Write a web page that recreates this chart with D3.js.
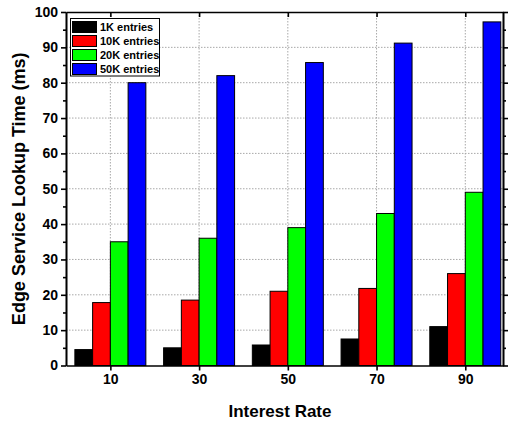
<!DOCTYPE html>
<html>
<head>
<meta charset="utf-8">
<script src="https://cdn.jsdelivr.net/npm/d3@7"></script>
<style>
  html, body { margin: 0; padding: 0; background: #fff; }
  svg { display: block; font-family: "Liberation Sans", Arial, sans-serif; }
</style>
</head>
<body>
<svg id="chart" width="510" height="424"></svg>
<script>
// Interest rates on the x axis and lookup times (ms) per table size
const rates = [10, 30, 50, 70, 90];
const seriesNames = ["1K entries", "10K entries", "20K entries", "50K entries"];
const seriesColors = ["#000000", "#ff0000", "#00ff00", "#0000ff"];
const entries1K  = [4.5, 5.0, 5.8, 7.5, 11.0];
const entries10K = [17.8, 18.5, 21.0, 21.8, 26.0];
const entries20K = [35, 36, 39, 43, 49];
const entries50K = [80, 82, 85.7, 91.2, 97.2];
const yTicks = [0, 10, 20, 30, 40, 50, 60, 70, 80, 90, 100];

const seriesValues = [entries1K, entries10K, entries20K, entries50K];

const svg = d3.select("#chart");
const plotLeft = 66, plotRight = 503, plotTop = 12, plotBottom = 365.5;

// Rate axis is numeric; each bar is 4 rate units wide, a group spans 16 units
const x = d3.scaleLinear().domain([0, 98.5]).range([plotLeft, plotRight]);
const y = d3.scaleLinear().domain([0, 100]).range([plotBottom, plotTop]);
const barUnits = 4;

// Dotted grid
const grid = svg.append("g");
grid.selectAll("line.h").data(yTicks.filter(v => v > 0 && v < 100)).join("line")
  .attr("x1", plotLeft).attr("x2", plotRight)
  .attr("y1", d => y(d)).attr("y2", d => y(d))
  .attr("stroke", "#a8a8a8").attr("stroke-width", 1).attr("stroke-dasharray", "1.5,1.5");
grid.selectAll("line.v").data(rates).join("line")
  .attr("y1", plotTop).attr("y2", plotBottom)
  .attr("x1", d => x(d)).attr("x2", d => x(d))
  .attr("stroke", "#a8a8a8").attr("stroke-width", 1).attr("stroke-dasharray", "1.5,1.5");

// Bars
seriesValues.forEach((vals, si) => {
  svg.append("g").selectAll("rect").data(vals).join("rect")
    .attr("x", (d, i) => x(rates[i] - 8 + si * barUnits))
    .attr("width", x(barUnits) - x(0))
    .attr("y", d => y(d))
    .attr("height", d => y(0) - y(d))
    .attr("fill", seriesColors[si])
    .attr("stroke", "#000").attr("stroke-width", 1);
});

// Axes
const tickFont = g => g.selectAll("text")
  .attr("font-size", 14).attr("font-weight", "bold").attr("fill", "#000")
  .attr("font-family", "Liberation Sans, Arial, sans-serif");
const axisStyle = g => {
  g.select(".domain").attr("stroke", "#000").attr("stroke-width", 1.6);
  g.selectAll(".tick line").attr("stroke", "#000").attr("stroke-width", 1.6);
};

// bottom
svg.append("g").attr("transform", `translate(0,${plotBottom})`)
  .call(d3.axisBottom(x).tickValues(rates).tickSize(5).tickSizeOuter(0).tickPadding(4))
  .call(axisStyle).call(tickFont);
// top
svg.append("g").attr("transform", `translate(0,${plotTop})`)
  .call(d3.axisBottom(x).tickValues(rates).tickSize(5).tickSizeOuter(0).tickFormat(""))
  .call(axisStyle);
// left major + minor
svg.append("g").attr("transform", `translate(${plotLeft},0)`)
  .call(d3.axisLeft(y).tickValues(yTicks).tickSize(5).tickSizeOuter(0).tickPadding(3))
  .call(axisStyle).call(tickFont);
svg.append("g").attr("transform", `translate(${plotLeft},0)`)
  .call(d3.axisLeft(y).tickValues(d3.range(5, 100, 10)).tickSize(3).tickSizeOuter(0).tickFormat(""))
  .call(axisStyle);
// right
svg.append("g").attr("transform", `translate(${plotRight},0)`)
  .call(d3.axisRight(y).tickValues(yTicks).tickSize(5).tickSizeOuter(0).tickFormat(""))
  .call(axisStyle);
svg.append("g").attr("transform", `translate(${plotRight},0)`)
  .call(d3.axisRight(y).tickValues(d3.range(5, 100, 10)).tickSize(3).tickSizeOuter(0).tickFormat(""))
  .call(axisStyle);

// Axis titles
svg.append("text")
  .attr("x", 280).attr("y", 417)
  .attr("text-anchor", "middle")
  .attr("font-size", 17).attr("font-weight", "bold")
  .text("Interest Rate");
svg.append("text")
  .attr("transform", `translate(25,${(plotTop + plotBottom) / 2}) rotate(-90)`)
  .attr("text-anchor", "middle")
  .attr("font-size", 18).attr("font-weight", "bold")
  .text("Edge Service Lookup Time (ms)");

// Legend
const legend = svg.append("g");
legend.append("rect")
  .attr("x", 70.5).attr("y", 18.5).attr("width", 89).attr("height", 57.5)
  .attr("fill", "#fff").attr("stroke", "#000").attr("stroke-width", 1);
seriesNames.forEach((name, i) => {
  const ry = 21.5 + i * 14;
  legend.append("rect")
    .attr("x", 72.5).attr("y", ry).attr("width", 24).attr("height", 11)
    .attr("fill", seriesColors[i]).attr("stroke", "#000").attr("stroke-width", 1);
  legend.append("text")
    .attr("x", 100).attr("y", ry + 9.5)
    .attr("font-size", 11).attr("font-weight", "bold")
    .text(name);
});
</script>
</body>
</html>
